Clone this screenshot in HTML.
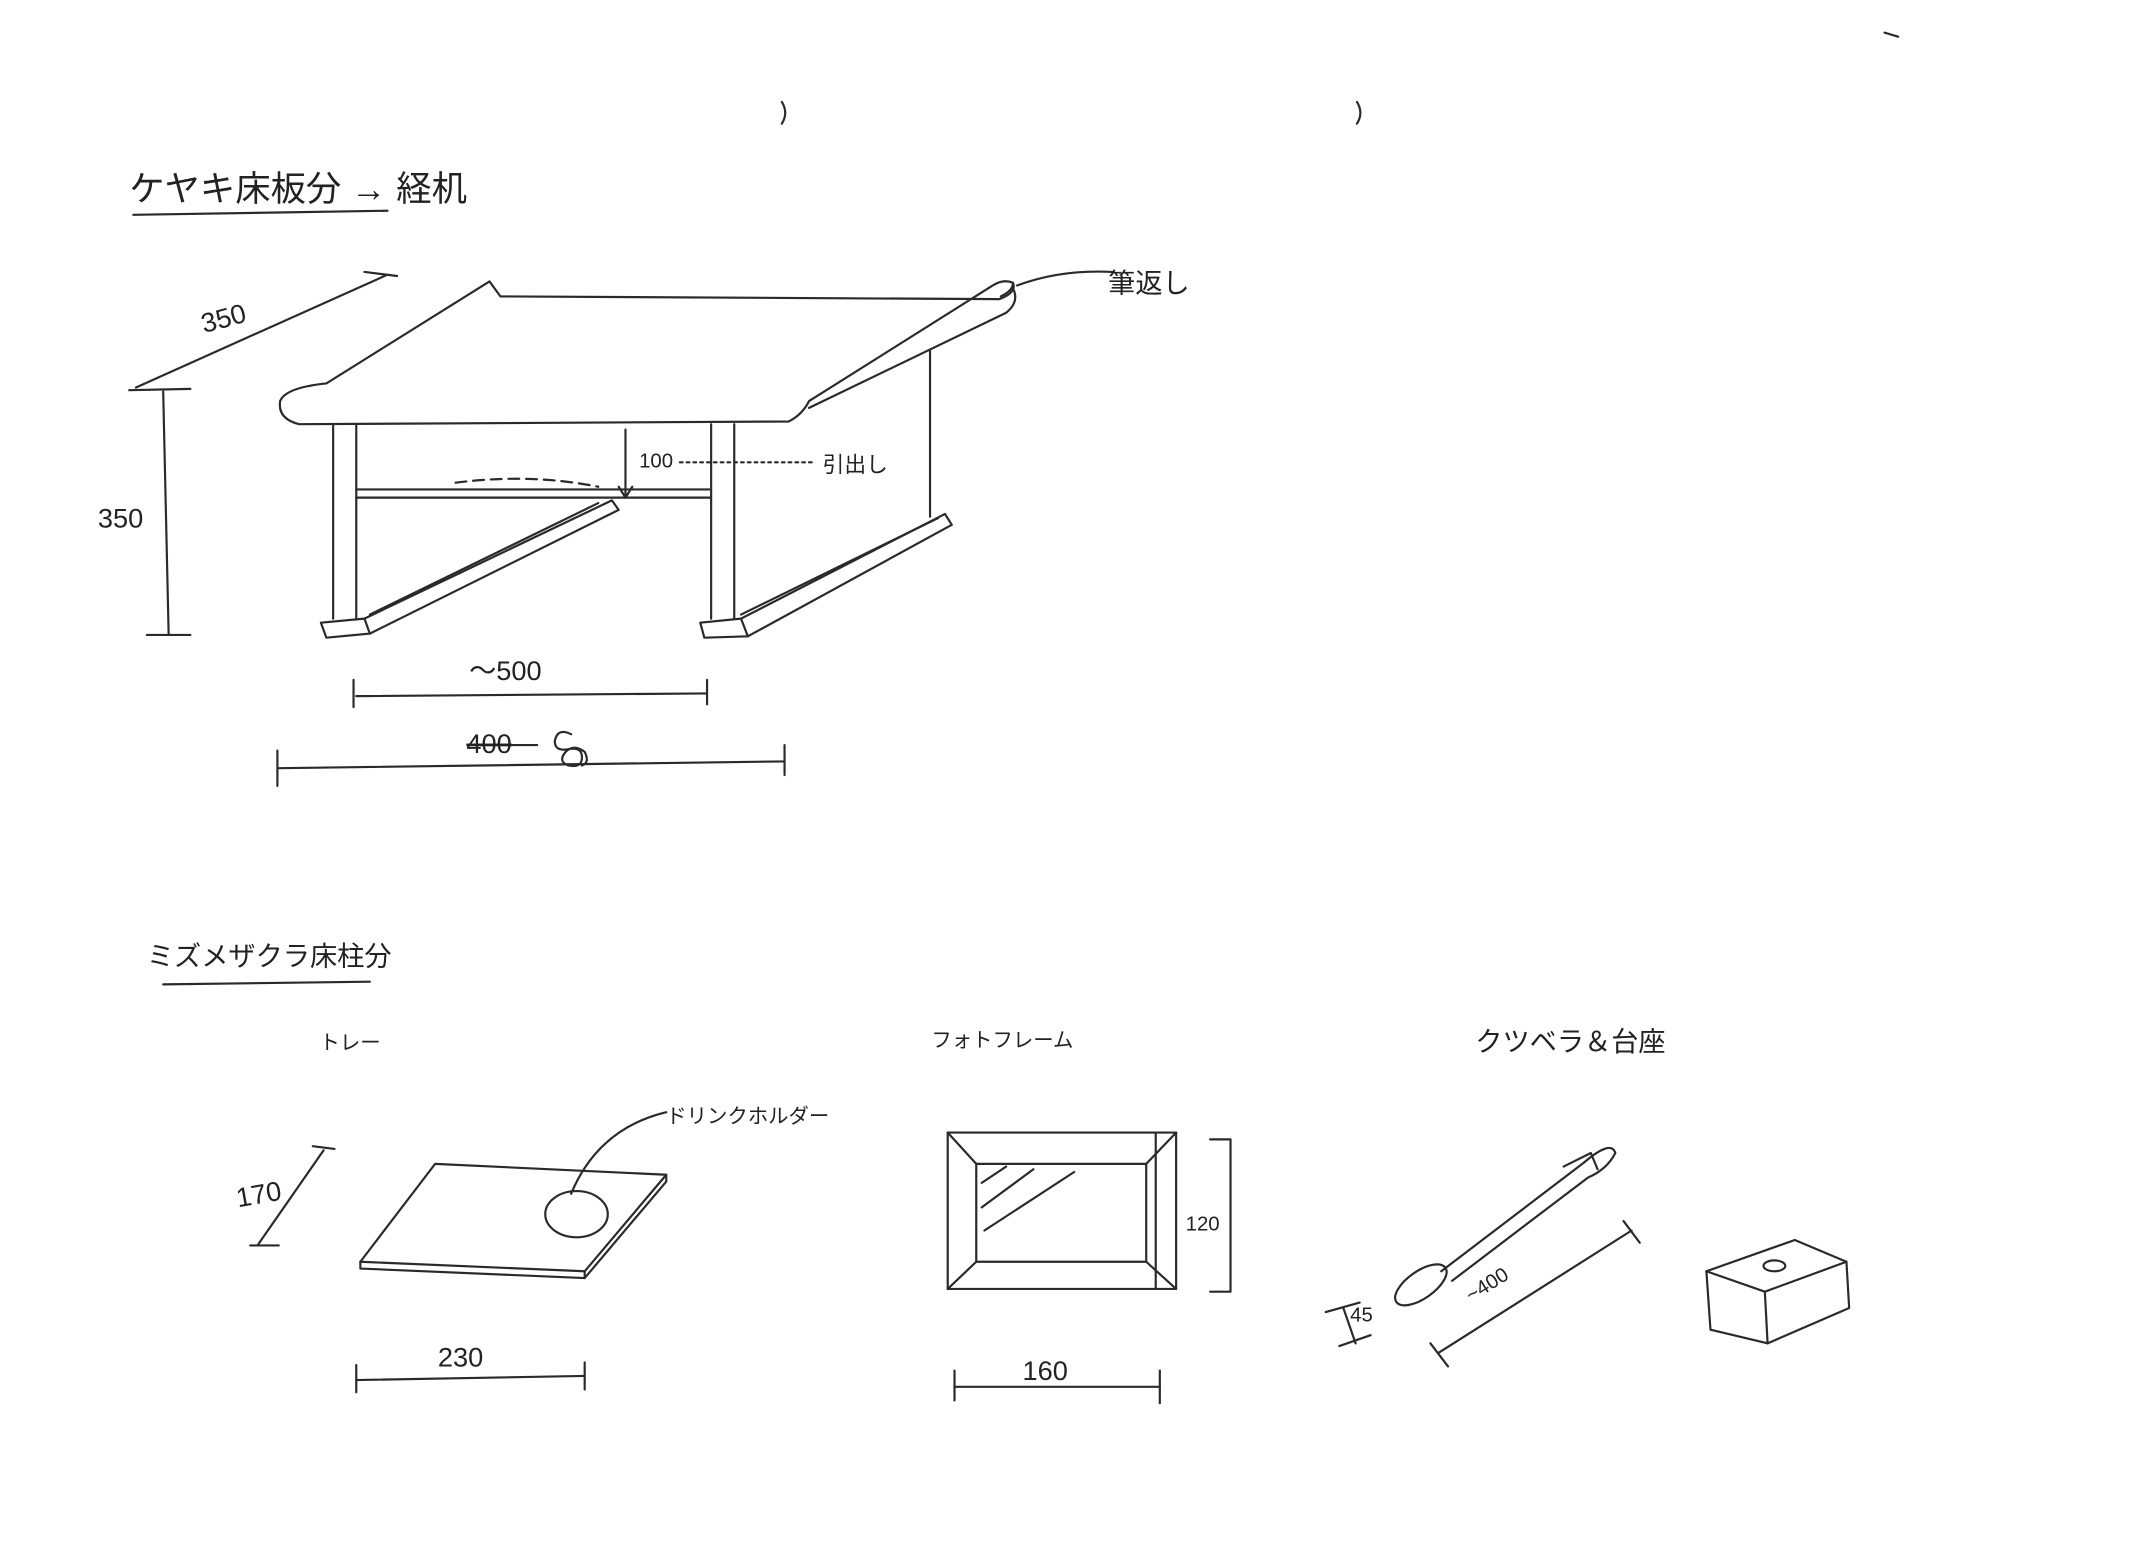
<!DOCTYPE html>
<html><head><meta charset="utf-8"><style>
html,body{margin:0;padding:0;background:#fff;}
svg{display:block;}
text{font-family:"Liberation Sans","Noto Sans CJK JP",sans-serif;fill:#222;}
</style></head><body>
<svg width="2132" height="1550" viewBox="0 0 1568 1140" xmlns="http://www.w3.org/2000/svg">
<rect width="1568" height="1140" fill="#fff"/>
<g fill="none" stroke="#2a2a2a" stroke-width="1.6" stroke-linecap="round" stroke-linejoin="round">
<!-- small marks -->
<path d="M575 75 q5 8 0 16"/><path d="M998 75 q5 8 0 16"/><path d="M1386 24 l10 3"/>
<!-- title underline -->
<path d="M98 158 L285 155"/>
<!-- desk top -->
<path d="M360 207 L368 218 L735 220 Q748 215 745 208 Q738 205 730 210 L595 295 Q590 305 580 310 L220 312 Q204 308 206 295 Q210 285 240 282 Z"/>
<path d="M745 212 Q750 222 740 230 L595 300"/>
<path d="M736 218 Q745 214 745 208"/>
<!-- legs -->
<path d="M245 312 L245 455"/><path d="M262 312 L262 455"/>
<path d="M523 312 L523 455"/><path d="M540 312 L540 455"/>
<path d="M684 258 L684 380"/>
<!-- back panel / drawer -->
<path d="M262 366 L523 366"/><path d="M262 360 L523 360"/>
<path d="M335 355 Q390 348 440 358" stroke-dasharray="8 5"/>
<path d="M460 316 L460 366"/><path d="M455 358 L460 366 L465 358"/>
<path d="M500 340 L600 340" stroke-dasharray="2 3"/>
<!-- feet -->
<path d="M236 458 L268 455 L272 466 L240 469 Z"/>
<path d="M268 455 L450 368 L455 375 L272 466"/>
<path d="M515 458 L545 455 L550 468 L518 469 Z"/>
<path d="M545 455 L695 378 L700 386 L550 468"/>
<path d="M272 452 L440 370"/><path d="M545 452 L690 381"/>
<!-- dims -->
<path d="M100 285 L285 202"/><path d="M95 287 L140 286"/><path d="M268 200 L292 203"/>
<path d="M120 288 L124 466"/><path d="M108 467 L140 467"/>
<path d="M262 512 L520 510"/><path d="M260 500 L260 520"/><path d="M520 500 L520 518"/>
<path d="M205 565 L577 560"/><path d="M204 552 L204 578"/><path d="M577 548 L577 570"/>
<path d="M748 210 Q780 198 818 200"/>
<path d="M345 548 L395 548"/>
<path d="M420 540 q-10 -5 -12 5 q0 8 10 6 q10 -2 10 6 q0 8 -10 6 q-8 -3 -2 -10 q6 -6 14 0 q4 8 -2 10"/>
<!-- section 2 underline -->
<path d="M120 724 L272 722"/>
<!-- tray -->
<path d="M320 856 L490 864 L430 935 L265 928 Z"/>
<path d="M265 928 L265 933 L430 940 L430 935"/><path d="M430 940 L490 869 L490 864"/>
<ellipse cx="424" cy="893" rx="23" ry="17"/>
<path d="M420 878 Q440 830 490 818"/>
<path d="M190 915 L238 846"/><path d="M184 916 L205 916"/><path d="M230 843 L246 845"/>
<path d="M262 1015 L430 1012"/><path d="M262 1004 L262 1024"/><path d="M430 1002 L430 1022"/>
<!-- frame -->
<path d="M697 833 L865 833 L865 948 L697 948 Z"/>
<path d="M718 856 L843 856 L843 928 L718 928 Z"/>
<path d="M697 833 L718 856"/><path d="M865 833 L843 856"/><path d="M697 948 L718 928"/><path d="M865 948 L843 928"/>
<path d="M850 833 L850 948"/>
<path d="M722 870 L740 858"/><path d="M722 888 L760 860"/><path d="M724 905 L790 862"/>
<path d="M890 838 L905 838 L905 950 L890 950"/>
<path d="M702 1020 L853 1020"/><path d="M702 1008 L702 1030"/><path d="M853 1008 L853 1032"/>
<!-- shoehorn -->
<ellipse cx="1045" cy="945" rx="22" ry="10" transform="rotate(-35 1045 945)"/>
<path d="M1060 935 L1165 855 Q1185 838 1188 848 Q1182 860 1168 866 L1068 942"/>
<path d="M1150 858 L1170 848 L1175 860"/>
<path d="M975 965 L1000 958"/><path d="M985 990 L1008 982"/><path d="M988 962 L997 988"/>
<path d="M1058 995 L1200 905"/><path d="M1052 988 L1065 1005"/><path d="M1194 898 L1206 914"/>
<!-- block -->
<path d="M1255 935 L1320 912 L1358 928 L1298 950 Z"/>
<path d="M1255 935 L1258 978 L1300 988 L1298 950"/><path d="M1300 988 L1360 962 L1358 928"/>
<ellipse cx="1305" cy="931" rx="8" ry="4"/>
</g>
<g font-size="26">
<text x="95" y="148">ケヤキ床板分 → 経机</text>
</g>
<g font-size="20">
<text x="815" y="215">筆返し</text>
<text x="150" y="245" transform="rotate(-15 150 245)">350</text>
<text x="72" y="388">350</text>
<text x="605" y="347" font-size="16">引出し</text>
<text x="345" y="500">〜500</text>
<text x="343" y="554" text-decoration="line-through">400</text>
<text x="108" y="710">ミズメザクラ床柱分</text>
<text x="1085" y="773">クツベラ＆台座</text>
<text x="175" y="888" transform="rotate(-10 175 888)">170</text>
<text x="322" y="1005">230</text>
<text x="752" y="1015">160</text>
</g>
<g font-size="15">
<text x="470" y="344">100</text>
<text x="235" y="772">トレー</text>
<text x="685" y="770">フォトフレーム</text>
<text x="490" y="826">ドリンクホルダー</text>
<text x="872" y="905">120</text>
<text x="993" y="972">45</text>
<text x="1082" y="958" transform="rotate(-32 1082 958)">~400</text>
</g>
</svg>
</body></html>
